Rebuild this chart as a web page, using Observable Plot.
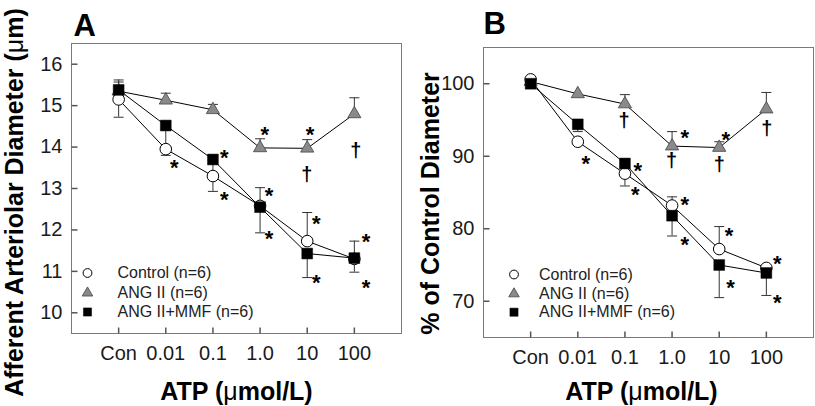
<!DOCTYPE html>
<html><head><meta charset="utf-8">
<script src="https://cdn.jsdelivr.net/npm/d3@7"></script>
<script src="https://cdn.jsdelivr.net/npm/@observablehq/plot@0.6"></script>
<style>
body{margin:0;background:#fff;}
#wrap{position:relative;width:815px;height:406px;overflow:hidden;}
#wrap svg{position:absolute;top:0;}
</style></head><body><div id="wrap"></div>
<script>
// ---------- data ----------
const categories = ["Con", "0.01", "0.1", "1.0", "10", "100"];
const seriesNames = ["Control (n=6)", "ANG II (n=6)", "ANG II+MMF (n=6)"];

// Panel A: afferent arteriolar diameter (µm); *Err = end of the one-sided error bar
const aControl    = [15.15, 13.95, 13.30, 12.58, 11.73, 11.30];
const aControlErr = [14.72, 13.80, 12.93, 13.02, 12.42, 11.73];
const aAngII      = [15.35, 15.13, 14.90, 13.98, 13.97, 14.80];
const aAngIIErr   = [15.62, 15.30, 15.03, 14.20, 14.18, 15.19];
const aMmf        = [15.38, 14.52, 13.70, 12.55, 11.43, 11.32];
const aMmfErr     = [15.57, 14.00, 13.30, 11.93, 10.85, 10.98];
const aYTicks = [10, 11, 12, 13, 14, 15, 16];
// significance marks: [category position, value]
const aStars = [[1.18, 13.61], [2.24, 13.85], [2.24, 12.84], [3.19, 12.93], [3.19, 11.91],
                [4.19, 12.26], [4.19, 10.83], [4.06, 14.41], [3.10, 14.41], [5.25, 11.82], [5.25, 10.73]];
const aDaggers = [[3.99, 13.37], [5.03, 13.93]];

// Panel B: % of control diameter
const bControl    = [100.6, 92.0, 87.6, 83.2, 77.2, 74.6];
const bControlErr = [null, null, 85.9, 84.4, 80.3, null];
const bAngII      = [100.3, 98.6, 97.2, 91.4, 91.2, 96.5];
const bAngIIErr   = [null, null, 98.5, 93.4, 92.0, 98.8];
const bMmf        = [100.0, 94.4, 89.0, 81.8, 75.0, 73.9];
const bMmfErr     = [null, 93.4, null, 79.0, 70.5, 70.8];
const bYTicks = [70, 80, 90, 100];
const bStars = [[1.17, 89.6], [2.27, 88.6], [2.22, 85.4], [3.27, 93.2], [3.27, 84.0], [3.27, 78.5],
                [4.14, 93.0], [4.21, 79.7], [4.24, 72.5], [5.23, 75.8], [5.23, 70.5]];
const bDaggers = [[1.98, 95.1], [2.99, 89.6], [4.0, 89.0], [5.01, 94.0]];

// ---------- drawing ----------
const FONT = "Liberation Sans, Arial, Helvetica, sans-serif";
const capSymbol = {draw(ctx) { ctx.moveTo(-5, 0); ctx.lineTo(5, 0); }};
const tickRight = {draw(ctx) { ctx.moveTo(0, 0); ctx.lineTo(6, 0); }};
const tickUp = {draw(ctx) { ctx.moveTo(0, 0); ctx.lineTo(0, -6); }};
const symbolStyles = [
  {symbol: "circle", fill: "white", stroke: "black", strokeWidth: 1, r: 5.8, lr: 4.4},
  {symbol: "triangle", fill: "#8a8a8a", stroke: "#444", strokeWidth: 0.8, r: 4.9, lr: 3.9},
  {symbol: "square", fill: "black", stroke: "black", strokeWidth: 0.5, r: 6.1, lr: 4.6}
];

function rowsOf(values, errs, s) {
  return values.map((v, i) => ({i, v, e: errs[i], s}));
}

function panel(cfg) {
  const series = cfg.series.map((p, k) => rowsOf(p[0], p[1], k));
  const all = series.flat();
  const errRows = all.filter(d => d.e != null);
  const drawOrder = [1, 0, 2];
  const xIdx = d3.range(categories.length);
  const marks = [
    Plot.frame({stroke: "#7a7a7a"}),
    Plot.axisY({ticks: cfg.yTicks, tickFormat: d => String(d), tickSize: 0, tickPadding: 9,
                label: null, fontSize: 20}),
    Plot.axisX({ticks: xIdx, tickFormat: i => categories[i], tickSize: 0,
                tickPadding: 12, label: null, fontSize: 20}),
    Plot.dot(cfg.yTicks, {y: d => d, frameAnchor: "left", symbol: tickRight, stroke: "#555", fill: "none"}),
    Plot.dot(xIdx, {x: d => d, frameAnchor: "bottom", symbol: tickUp, stroke: "#555", fill: "none"}),
    Plot.line(all, {x: "i", y: "v", z: "s", stroke: "black", strokeWidth: 1}),
    Plot.ruleX(errRows, {x: "i", y1: "v", y2: "e", stroke: "#333", strokeWidth: 1}),
    Plot.dot(errRows, {x: "i", y: "e", symbol: capSymbol, stroke: "#333", strokeWidth: 1, fill: "none"}),
    ...drawOrder.map(k => Plot.dot(series[k], {x: "i", y: "v", symbol: symbolStyles[k].symbol,
      r: symbolStyles[k].r, fill: symbolStyles[k].fill, stroke: symbolStyles[k].stroke,
      strokeWidth: symbolStyles[k].strokeWidth})),
    Plot.text(cfg.stars, {x: d => d[0], y: d => d[1], text: () => "*", fontSize: 22,
      fontWeight: "bold", lineAnchor: "middle", dy: 5, fill: "black"}),
    Plot.text(cfg.daggers, {x: d => d[0], y: d => d[1], text: () => "\u2020", fontSize: 20,
      fontWeight: "bold", lineAnchor: "middle", dy: 1, fill: "black"}),
    // legend
    ...seriesNames.flatMap((name, k) => [
      Plot.dot([0], {frameAnchor: "bottom-left", dx: cfg.legend.dx, dy: cfg.legend.dy[k],
        symbol: symbolStyles[k].symbol, r: symbolStyles[k].lr, fill: symbolStyles[k].fill,
        stroke: symbolStyles[k].stroke, strokeWidth: symbolStyles[k].strokeWidth}),
      Plot.text([name], {frameAnchor: "bottom-left", dx: cfg.legend.tx, dy: cfg.legend.dy[k],
        text: d => d, textAnchor: "start", lineAnchor: "middle", fontSize: 16, fill: "#222"})
    ]),
    // panel letter
    Plot.text([cfg.letter], {frameAnchor: "top-left", dx: cfg.letterDx, dy: cfg.letterDy,
      text: d => d, textAnchor: "start", lineAnchor: "bottom", fontSize: 31, fontWeight: "bold", fill: "black"}),
    // axis titles
    Plot.text([cfg.yTitle], {frameAnchor: "left", dx: cfg.yTitleDx, dy: cfg.yTitleDy, rotate: -90,
      text: d => d, textAnchor: "middle", lineAnchor: "bottom", fontSize: 25, fontWeight: "bold", fill: "black"}),
    Plot.text(["ATP (\u03bcmol/L)"], {frameAnchor: "bottom", dx: cfg.xTitleDx, dy: cfg.xTitleDy,
      text: d => d, textAnchor: "middle", lineAnchor: "bottom", fontSize: 25, fontWeight: "bold", fill: "black"})
  ];
  const svg = Plot.plot({
    width: cfg.width, height: 406,
    marginLeft: cfg.margin[0], marginRight: cfg.margin[1], marginTop: cfg.margin[2], marginBottom: cfg.margin[3],
    x: {type: "linear", domain: [-1, 6], axis: null},
    y: {type: "linear", domain: cfg.yDomain, axis: null},
    style: {fontFamily: FONT, fontSize: "20px", color: "#1a1a1a", background: "white", overflow: "visible"},
    marks
  });
  // render the Greek mu in regular weight as in the original figure
  d3.select(svg).selectAll("text").each(function() {
    const t = this.textContent;
    if (t && t.includes("\u03bc") && this.childElementCount === 0) {
      const parts = t.split("\u03bc");
      this.textContent = "";
      parts.forEach((p, j) => {
        if (j > 0) d3.select(this).append("tspan").attr("font-weight", "normal").text("\u03bc");
        if (p) d3.select(this).append("tspan").text(p);
      });
    }
  });
  svg.style.left = cfg.left + "px";
  return svg;
}

const wrap = document.getElementById("wrap");
wrap.appendChild(panel({
  left: 0, width: 410, margin: [71, 9, 43, 73], yDomain: [9.5, 16.5], yTicks: aYTicks,
  series: [[aControl, aControlErr], [aAngII, aAngIIErr], [aMmf, aMmfErr]],
  stars: aStars, daggers: aDaggers,
  legend: {dx: 16, tx: 46, dy: [-60.5, -40.5, -21.5]},
  letter: "A", letterDx: 2, letterDy: -8,
  yTitle: "Afferent Arteriolar Diameter (\u03bcm)", yTitleDx: -49, yTitleDy: 14,
  xTitleDx: 0, xTitleDy: 66
}));
wrap.appendChild(panel({
  left: 410, width: 405, margin: [73, 2, 47, 69], yDomain: [65, 105], yTicks: bYTicks,
  series: [[bControl, bControlErr], [bAngII, bAngIIErr], [bMmf, bMmfErr]],
  stars: bStars, daggers: bDaggers,
  legend: {dx: 30.5, tx: 55.5, dy: [-63, -43.7, -25.3]},
  letter: "B", letterDx: 0, letterDy: -14,
  yTitle: "% of Control Diameter", yTitleDx: -45, yTitleDy: 11,
  xTitleDx: -7, xTitleDy: 62
}));
</script>
</body></html>
